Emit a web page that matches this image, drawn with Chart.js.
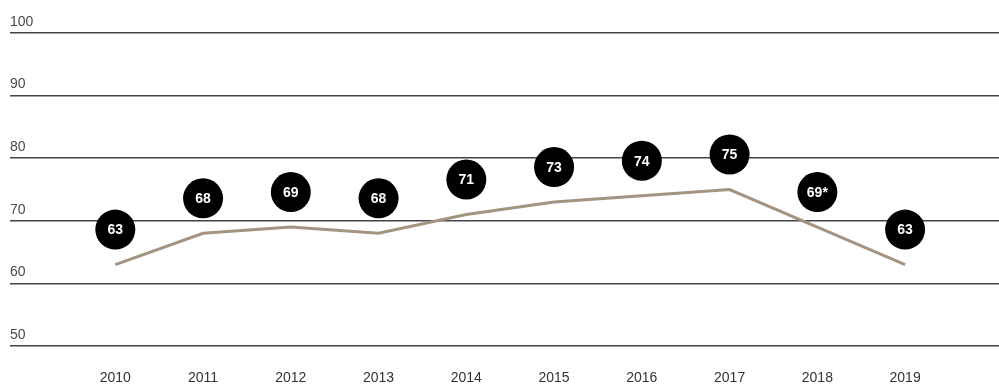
<!DOCTYPE html>
<html>
<head>
<meta charset="utf-8">
<script src="https://cdn.jsdelivr.net/npm/chart.js@4"></script>
<style>
  body { margin: 0; background: #fff; }
  #wrap { width: 999px; height: 385px; }
</style>
</head>
<body>
<div id="wrap"><canvas id="c"></canvas></div>
<script>
var years = [2010, 2011, 2012, 2013, 2014, 2015, 2016, 2017, 2018, 2019];
var scores = [63, 68, 69, 68, 71, 73, 74, 75, 69, 63];
var bubbleLabels = ['63', '68', '69', '68', '71', '73', '74', '75', '69*', '63'];
var yTicks = [50, 60, 70, 80, 90, 100];

// black discs with the score, floating above each point
var bubbles = {
    id: 'bubbles',
    afterDatasetsDraw: function(chart) {
        var ctx = chart.ctx;
        var meta = chart.getDatasetMeta(0);
        ctx.save();
        meta.data.forEach(function(pt, i) {
            var cy = pt.y - 35;
            ctx.beginPath();
            ctx.arc(pt.x, cy, 20, 0, Math.PI * 2);
            ctx.fillStyle = '#000';
            ctx.fill();
            ctx.fillStyle = '#fff';
            ctx.font = 'bold 14px "Liberation Sans", Arial, sans-serif';
            ctx.textAlign = 'center';
            ctx.textBaseline = 'middle';
            ctx.fillText(bubbleLabels[i], pt.x, cy + 1);
        });
        ctx.restore();
    }
};

var ctx = document.getElementById('c').getContext('2d');
var chart = new Chart(ctx, {
    type: 'line',
    data: {
        datasets: [{
            data: years.map(function(y, i) { return { x: y, y: scores[i] }; }),
            borderColor: '#a39482',
            borderWidth: 3,
            pointRadius: 0,
            tension: 0,
            fill: false
        }]
    },
    options: {
        animation: false,
        responsive: true,
        maintainAspectRatio: false,
        layout: { padding: { left: 10, right: 0, top: 33, bottom: 0 } },
        plugins: { legend: { display: false }, tooltip: { enabled: false } },
        scales: {
            x: {
                type: 'linear',
                min: 2008.8,
                max: 2020.07,
                afterBuildTicks: function(scale) {
                    scale.ticks = years.map(function(v) { return { value: v }; });
                },
                afterFit: function(scale) { scale.height = 39; },
                grid: { display: false },
                border: { display: false },
                ticks: {
                    autoSkip: false,
                    maxRotation: 0,
                    padding: 16,
                    color: '#333',
                    font: { family: '"Liberation Sans", Arial, sans-serif', size: 14 },
                    callback: function(v) { return String(v); }
                }
            },
            y: {
                min: 50,
                max: 100,
                afterBuildTicks: function(scale) {
                    scale.ticks = yTicks.map(function(v) { return { value: v }; });
                },
                grid: { color: '#444', lineWidth: 1.5, drawTicks: false },
                border: { display: false },
                ticks: {
                    mirror: true,
                    padding: 0,
                    labelOffset: -11,
                    color: '#4a4a4a',
                    font: { family: '"Liberation Sans", Arial, sans-serif', size: 14 }
                }
            }
        }
    },
    plugins: [bubbles]
});
</script>
</body>
</html>
